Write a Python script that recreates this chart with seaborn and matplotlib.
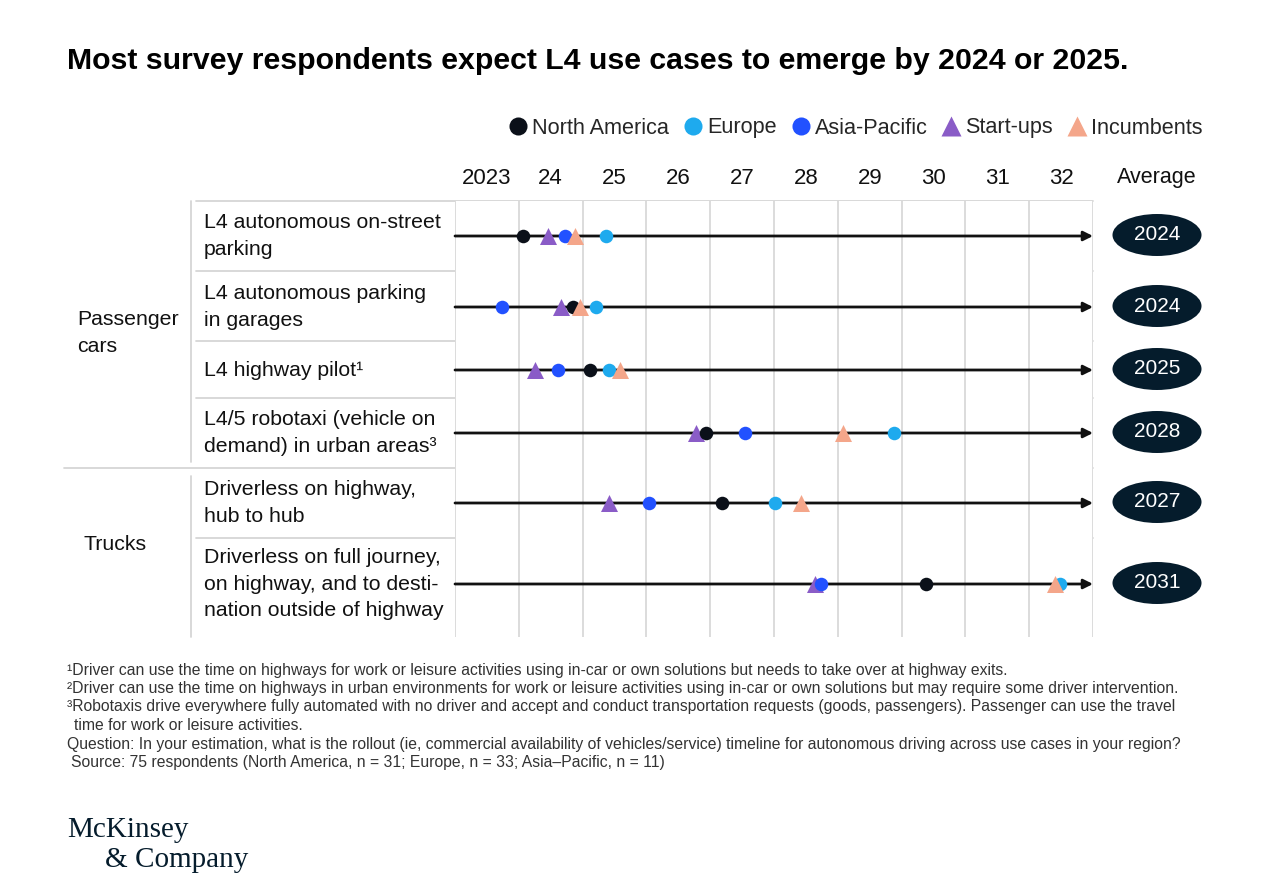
import matplotlib
matplotlib.use("Agg")
import matplotlib.pyplot as plt
from matplotlib.patches import Ellipse
from matplotlib.lines import Line2D
import seaborn as sns
import pandas as pd

# ---------------- data ----------------
use_cases = [
    "L4 autonomous on-street\nparking",
    "L4 autonomous parking\nin garages",
    "L4 highway pilot\u00b9",
    "L4/5 robotaxi (vehicle on\ndemand) in urban areas\u00b3",
    "Driverless on highway,\nhub to hub",
    "Driverless on full journey,\non highway, and to desti-\nnation outside of highway",
]
segments = ["Passenger\ncars", "Trucks"]
north_america = [2024.07, 2024.85, 2025.11, 2026.93, 2027.19, 2030.38]
europe        = [2025.37, 2025.21, 2025.41, 2029.88, 2028.02, 2032.49]
asia_pacific  = [2024.72, 2023.73, 2024.62, 2027.54, 2026.04, 2028.73]
start_ups     = [2024.46, 2024.66, 2024.26, 2026.77, 2025.42, 2028.65]
incumbents    = [2024.88, 2024.96, 2025.59, 2029.08, 2028.42, 2032.40]
averages = ["2024", "2024", "2025", "2028", "2027", "2031"]
tick_years = [2023, 2024, 2025, 2026, 2027, 2028, 2029, 2030, 2031, 2032]
tick_labels = ["2023", "24", "25", "26", "27", "28", "29", "30", "31", "32"]

# ---------------- style ----------------
sns.set_style("white")
plt.rcParams["font.family"] = ["Liberation Sans", "DejaVu Sans"]

W, H = 1284, 890
fig = plt.figure(figsize=(W / 100, H / 100), dpi=100)

def fx(px):
    return px / W

def fy(py):
    return 1 - py / H

# layout (pixel-like units on y)
row_centres = [236, 307, 370, 433, 503, 584]
row_edges = [201, 271, 341, 398, 468, 538]
y_top, y_bot = 201, 637

ax = fig.add_axes([fx(455), fy(y_bot), fx(1093) - fx(455), fy(y_top) - fy(y_bot)])
ax.set_xlim(2023, 2033)
ax.set_ylim(y_bot, y_top)
for s in ax.spines.values():
    s.set_visible(False)
ax.set_yticks([])

grid_c = "#d6d6d6"
# vertical gridlines
ax.vlines(list(range(2023, 2034)), y_top, y_bot, color=grid_c, lw=1.2, zorder=0)

# horizontal separators (extend to the left label columns)
for ye in row_edges:
    x0 = 64 if ye == 468 else 196
    fig.add_artist(Line2D([fx(x0), fx(1093)], [fy(ye), fy(ye)], color=grid_c, lw=1.3, zorder=0))
# vertical separator between segment and use-case columns
fig.add_artist(Line2D([fx(191), fx(191)], [fy(201), fy(462)], color=grid_c, lw=1.3))
fig.add_artist(Line2D([fx(191), fx(191)], [fy(476), fy(637)], color=grid_c, lw=1.3))

# arrows
for yc in row_centres:
    ax.annotate("", xy=(2033, yc), xytext=(2023, yc),
                arrowprops=dict(arrowstyle="-|>", lw=2.0, color="#111111",
                                mutation_scale=14, shrinkA=0, shrinkB=0),
                zorder=2)

# points
colors = {
    "North America": "#0b1019",
    "Europe": "#1eaaee",
    "Asia-Pacific": "#2251ff",
    "Start-ups": "#8a5cc7",
    "Incumbents": "#f4a68a",
}
markers = {"North America": "o", "Europe": "o", "Asia-Pacific": "o",
           "Start-ups": "^", "Incumbents": "^"}
values = {"North America": north_america, "Europe": europe, "Asia-Pacific": asia_pacific,
          "Start-ups": start_ups, "Incumbents": incumbents}
draw_order = ["Start-ups", "North America", "Asia-Pacific", "Europe", "Incumbents"]
for g in draw_order:
    df = pd.DataFrame({"year": values[g], "row": row_centres})
    sns.scatterplot(data=df, x="year", y="row", ax=ax, color=colors[g],
                    marker=markers[g], s=150 if markers[g] == "^" else 95,
                    linewidth=0, zorder=3, legend=False)
ax.set_xlabel("")
ax.set_ylabel("")
ax.set_ylim(y_bot, y_top)

# top ticks
ax.xaxis.tick_top()
ax.set_xticks([y + 0.5 for y in tick_years])
ax.set_xticklabels(tick_labels, fontsize=16, color="#111111")
ax.tick_params(axis="x", length=0, pad=9)

# Average column
fig.text(fx(1157), fy(177), "Average", ha="center", va="center", fontsize=15.5, color="#111111")
xc = 2023 + (1157 - 455) / 63.8
for yc, lab in zip(row_centres, averages):
    e = Ellipse((xc, yc - 1), width=89 / 63.8, height=42, facecolor="#051c2c",
                edgecolor="none", clip_on=False, zorder=4)
    ax.add_patch(e)
    ax.text(xc, yc - 1, lab, ha="center", va="center", color="white", fontsize=15,
            zorder=5, clip_on=False)

# row labels
for yc, lab in zip(row_centres, use_cases):
    fig.text(fx(204), fy(yc), lab, ha="left", va="center", fontsize=15.3,
             color="#111111", linespacing=1.52)

# segment labels
fig.text(fx(77), fy(333), segments[0], ha="left", va="center", fontsize=15.3,
         color="#111111", linespacing=1.52)
fig.text(fx(84), fy(545), segments[1], ha="left", va="center", fontsize=15.3, color="#111111")

# title
fig.text(fx(67), fy(61), "Most survey respondents expect L4 use cases to emerge by 2024 or 2025.",
         ha="left", va="center", fontsize=21.8, fontweight="bold", color="#000000")

# legend
handles = [Line2D([0], [0], marker=markers[g], color="none", markerfacecolor=colors[g],
                  markeredgecolor="none", markersize=13 if markers[g] == "o" else 15, label=g)
           for g in ["North America", "Europe", "Asia-Pacific", "Start-ups", "Incumbents"]]
fig.legend(handles=handles, loc="center", bbox_to_anchor=(fx(855), fy(128)), ncol=5,
           frameon=False, fontsize=15.6, handletextpad=0.15, columnspacing=0.6,
           handlelength=1.0, borderaxespad=0)

# footnotes
notes = [
    (67, 670, "\u00b9Driver can use the time on highways for work or leisure activities using in-car or own solutions but needs to take over at highway exits."),
    (67, 689, "\u00b2Driver can use the time on highways in urban environments for work or leisure activities using in-car or own solutions but may require some driver intervention."),
    (67, 707, "\u00b3Robotaxis drive everywhere fully automated with no driver and accept and conduct transportation requests (goods, passengers). Passenger can use the travel"),
    (74, 725, "time for work or leisure activities."),
    (67, 745, "Question: In your estimation, what is the rollout (ie, commercial availability of vehicles/service) timeline for autonomous driving across use cases in your region?"),
    (71, 762, "Source: 75 respondents (North America, n = 31; Europe, n = 33; Asia\u2013Pacific, n = 11)"),
]
for x, y, t in notes:
    fig.text(fx(x), fy(y), t, ha="left", va="center", fontsize=11.3, color="#333333")

# logo
fig.text(fx(67), fy(830), "McKinsey", ha="left", va="center", fontsize=21,
         family="Liberation Serif", color="#051c2c")
fig.text(fx(105), fy(860), "& Company", ha="left", va="center", fontsize=21,
         family="Liberation Serif", color="#051c2c")

fig.savefig("out.png", dpi=100, facecolor="white")
